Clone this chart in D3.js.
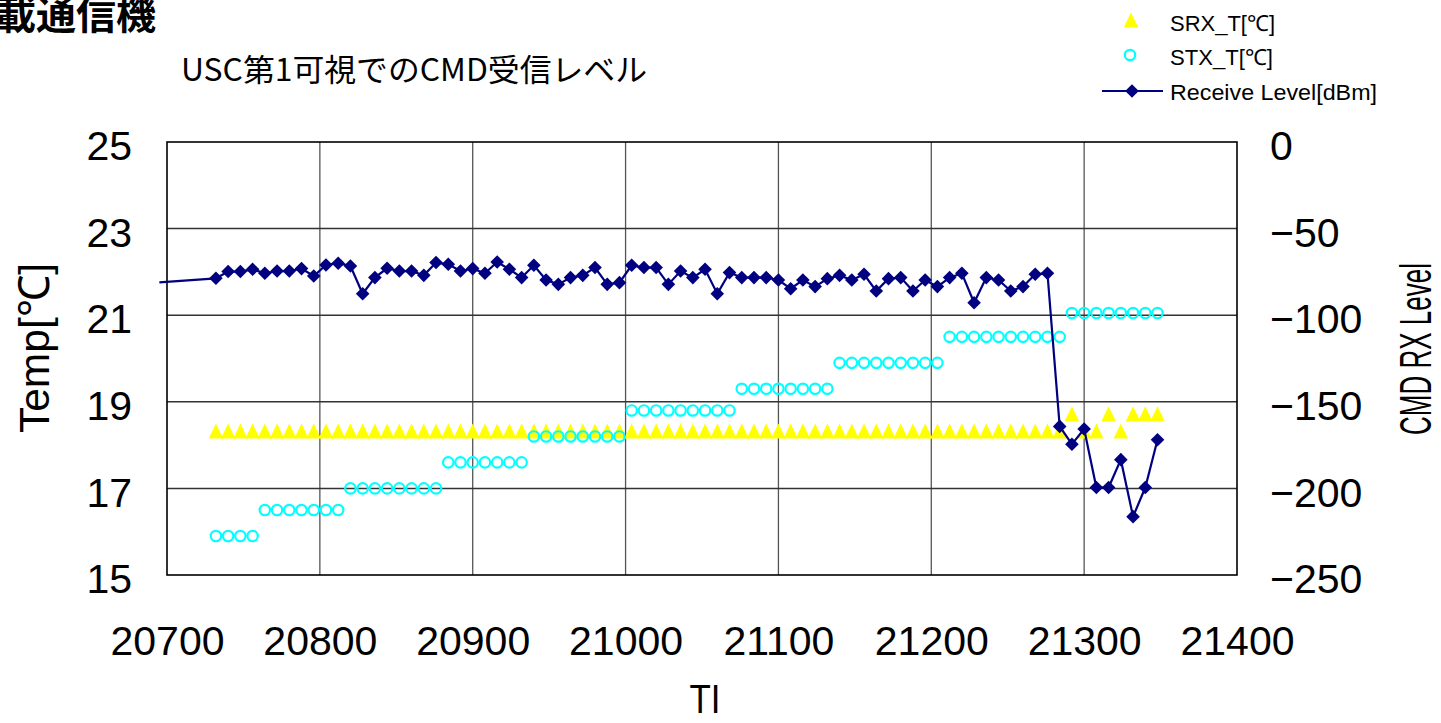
<!DOCTYPE html>
<html>
<head>
<meta charset="utf-8">
<script src="https://cdn.jsdelivr.net/npm/d3@7"></script>
<style>
  html, body { margin: 0; padding: 0; background: #ffffff; overflow: hidden; }
  svg { display: block; }
</style>
</head>
<body>
<svg id="chart" width="1441" height="723"></svg>
<script>
// Telemetry index of each sample (TI)
const tiStart = 20732;
const tiStep = 8;

// SRX temperature [°C]
const srxTemp = [
  18.3, 18.3, 18.3, 18.3, 18.3, 18.3, 18.3, 18.3, 18.3, 18.3,
  18.3, 18.3, 18.3, 18.3, 18.3, 18.3, 18.3, 18.3, 18.3, 18.3,
  18.3, 18.3, 18.3, 18.3, 18.3, 18.3, 18.3, 18.3, 18.3, 18.3,
  18.3, 18.3, 18.3, 18.3, 18.3, 18.3, 18.3, 18.3, 18.3, 18.3,
  18.3, 18.3, 18.3, 18.3, 18.3, 18.3, 18.3, 18.3, 18.3, 18.3,
  18.3, 18.3, 18.3, 18.3, 18.3, 18.3, 18.3, 18.3, 18.3, 18.3,
  18.3, 18.3, 18.3, 18.3, 18.3, 18.3, 18.3, 18.3, 18.3, 18.3,
  18.7, 18.3, 18.3, 18.7, 18.3, 18.7, 18.7, 18.7
];

// STX temperature [°C]
const stxTemp = [
  15.9, 15.9, 15.9, 15.9, 16.5, 16.5, 16.5, 16.5, 16.5, 16.5,
  16.5, 17.0, 17.0, 17.0, 17.0, 17.0, 17.0, 17.0, 17.0, 17.6,
  17.6, 17.6, 17.6, 17.6, 17.6, 17.6, 18.2, 18.2, 18.2, 18.2,
  18.2, 18.2, 18.2, 18.2, 18.8, 18.8, 18.8, 18.8, 18.8, 18.8,
  18.8, 18.8, 18.8, 19.3, 19.3, 19.3, 19.3, 19.3, 19.3, 19.3,
  19.3, 19.9, 19.9, 19.9, 19.9, 19.9, 19.9, 19.9, 19.9, 19.9,
  20.5, 20.5, 20.5, 20.5, 20.5, 20.5, 20.5, 20.5, 20.5, 20.5,
  21.05, 21.05, 21.05, 21.05, 21.05, 21.05, 21.05, 21.05
];

// Command receive level [dBm]
const rxLevel = [
  -78.7, -74.8, -74.8, -73.5, -75.8, -74.5, -74.5, -73.1, -77.4, -71.0,
  -70.0, -71.6, -87.6, -78.3, -72.9, -74.5, -74.5, -77.0, -69.6, -70.6,
  -74.5, -73.1, -75.8, -69.3, -73.5, -78.3, -71.2, -79.7, -82.2, -78.3,
  -77.0, -72.5, -82.2, -81.2, -71.2, -72.5, -72.5, -82.2, -74.5, -78.3,
  -73.5, -87.6, -75.4, -78.3, -78.3, -78.3, -79.7, -84.7, -79.7, -83.5,
  -78.9, -77.0, -79.7, -76.4, -86.0, -78.9, -78.3, -86.0, -79.7, -83.5,
  -78.3, -75.8, -92.8, -78.3, -79.7, -86.0, -83.5, -76.4, -75.8, -164.2,
  -174.5, -165.7, -199.5, -199.5, -183.4, -216.3, -199.5, -171.9
];

// Preceding sample just left of the plotted range (line only, no marker)
const rxLeadIn = { ti: 20695, v: -81.0 };

// Tick labels
const xTicks = [20700, 20800, 20900, 21000, 21100, 21200, 21300, 21400];
const tempTicks = [15, 17, 19, 21, 23, 25];
const levelTicks = [0, -50, -100, -150, -200, -250];

const ti = rxLevel.map((_, i) => tiStart + tiStep * i);

const svg = d3.select("#chart");
const W = 1441, H = 723;
const plot = { left: 167, right: 1237, top: 142, bottom: 575 };

const x = d3.scaleLinear().domain([20700, 21400]).range([plot.left, plot.right]);
const yT = d3.scaleLinear().domain([15, 25]).range([plot.bottom, plot.top]);
const yL = d3.scaleLinear().domain([-250, 0]).range([plot.bottom, plot.top]);

const NAVY = "#000080", YELLOW = "#FFFF00", CYAN = "#00FFFF";
const latin = "'Liberation Sans', Arial, sans-serif";
const cjk = "'Noto Sans CJK JP', 'Noto Sans', sans-serif";

svg.append("rect").attr("width", W).attr("height", H).attr("fill", "#fff");

// Titles
svg.append("text")
  .attr("x", 156).attr("y", 29)
  .attr("text-anchor", "end")
  .attr("font-family", cjk).attr("font-weight", "bold").attr("font-size", 40)
  .attr("fill", "#000")
  .text("搭載通信機");

svg.append("text")
  .attr("x", 181).attr("y", 81)
  .attr("font-family", cjk).attr("font-size", 31)
  .attr("textLength", 466).attr("lengthAdjust", "spacingAndGlyphs")
  .attr("fill", "#000")
  .text("USC第1可視でのCMD受信レベル");

// Grid
const grid = svg.append("g");
grid.selectAll("line.v")
  .data(xTicks.slice(1, -1))
  .join("line")
  .attr("x1", d => x(d)).attr("x2", d => x(d))
  .attr("y1", plot.top).attr("y2", plot.bottom)
  .attr("stroke", "#555").attr("stroke-width", 1.3);
grid.selectAll("line.h")
  .data(tempTicks.slice(1, -1))
  .join("line")
  .attr("x1", plot.left).attr("x2", plot.right)
  .attr("y1", d => yT(d)).attr("y2", d => yT(d))
  .attr("stroke", "#333").attr("stroke-width", 1.5);

svg.append("rect")
  .attr("x", plot.left).attr("y", plot.top)
  .attr("width", plot.right - plot.left).attr("height", plot.bottom - plot.top)
  .attr("fill", "none").attr("stroke", "#000").attr("stroke-width", 1.6);

// Axes
const tickFont = 41;
const axL = svg.append("g").attr("transform", `translate(${plot.left},0)`)
  .call(d3.axisLeft(yT).tickValues(tempTicks).tickSize(0).tickPadding(35).tickFormat(d3.format("d")));
const axR = svg.append("g").attr("transform", `translate(${plot.right},0)`)
  .call(d3.axisRight(yL).tickValues(levelTicks).tickSize(0).tickPadding(33)
    .tickFormat(d => d < 0 ? "\u2212" + Math.abs(d) : String(d)));
const axB = svg.append("g").attr("transform", `translate(0,${plot.bottom})`)
  .call(d3.axisBottom(x).tickValues(xTicks).tickSize(0).tickFormat(d3.format("d")));

[axL, axR, axB].forEach(g => {
  g.select(".domain").remove();
  g.selectAll("text")
    .attr("font-family", latin).attr("font-size", tickFont).attr("fill", "#000");
});
axL.selectAll("text").attr("dy", "0.43em");
axR.selectAll("text").attr("dy", "0.43em");
axB.selectAll("text").attr("y", 80).attr("dy", 0);

// Axis titles
svg.append("text")
  .attr("x", 705).attr("y", 713)
  .attr("text-anchor", "middle")
  .attr("font-family", latin).attr("font-size", 41)
  .attr("textLength", 31).attr("lengthAdjust", "spacingAndGlyphs")
  .text("TI");

svg.append("text")
  .attr("transform", "translate(49,348) rotate(-90)")
  .attr("text-anchor", "middle")
  .attr("font-family", latin).attr("font-size", 43)
  .attr("textLength", 170).attr("lengthAdjust", "spacingAndGlyphs")
  .text("Temp[℃]");

svg.append("text")
  .attr("transform", "translate(1431,349) rotate(-90)")
  .attr("text-anchor", "middle")
  .attr("font-family", latin).attr("font-size", 44)
  .attr("textLength", 172).attr("lengthAdjust", "spacingAndGlyphs")
  .text("CMD RX Level");

// Marker shapes
const triPath = "M0,-8.5L7.2,6.5L-7.2,6.5Z";
const diaPath = "M0,-6.8L6.8,0L0,6.8L-6.8,0Z";

// SRX temperature (yellow triangles)
svg.append("g").selectAll("path")
  .data(srxTemp)
  .join("path")
  .attr("d", triPath)
  .attr("transform", (d, i) => `translate(${x(ti[i])},${yT(d)})`)
  .attr("fill", YELLOW);

// STX temperature (cyan rings)
svg.append("g").selectAll("circle")
  .data(stxTemp)
  .join("circle")
  .attr("cx", (d, i) => x(ti[i])).attr("cy", d => yT(d))
  .attr("r", 5.2)
  .attr("fill", "none").attr("stroke", CYAN).attr("stroke-width", 2.2);

// Receive level line + diamonds
const rxPoints = [rxLeadIn].concat(rxLevel.map((v, i) => ({ ti: ti[i], v })));
svg.append("path")
  .datum(rxPoints)
  .attr("d", d3.line().x(d => x(d.ti)).y(d => yL(d.v)))
  .attr("fill", "none").attr("stroke", NAVY).attr("stroke-width", 2.2);

svg.append("g").selectAll("path")
  .data(rxLevel)
  .join("path")
  .attr("d", diaPath)
  .attr("transform", (d, i) => `translate(${x(ti[i])},${yL(d)})`)
  .attr("fill", NAVY);

// Legend
const lg = svg.append("g").attr("font-family", latin).attr("font-size", 22).attr("fill", "#000");
lg.append("path").attr("d", triPath).attr("transform", "translate(1131,21)").attr("fill", YELLOW);
lg.append("text").attr("x", 1170).attr("y", 31)
  .attr("textLength", 105).attr("lengthAdjust", "spacingAndGlyphs").text("SRX_T[℃]");
lg.append("circle").attr("cx", 1130).attr("cy", 55).attr("r", 5.2)
  .attr("fill", "none").attr("stroke", CYAN).attr("stroke-width", 2.2);
lg.append("text").attr("x", 1170).attr("y", 65)
  .attr("textLength", 103).attr("lengthAdjust", "spacingAndGlyphs").text("STX_T[℃]");
lg.append("line").attr("x1", 1102).attr("x2", 1163).attr("y1", 91).attr("y2", 91)
  .attr("stroke", NAVY).attr("stroke-width", 2.2);
lg.append("path").attr("d", diaPath).attr("transform", "translate(1132,91)").attr("fill", NAVY);
lg.append("text").attr("x", 1170).attr("y", 100)
  .attr("textLength", 207).attr("lengthAdjust", "spacingAndGlyphs").text("Receive Level[dBm]");
</script>
</body>
</html>
